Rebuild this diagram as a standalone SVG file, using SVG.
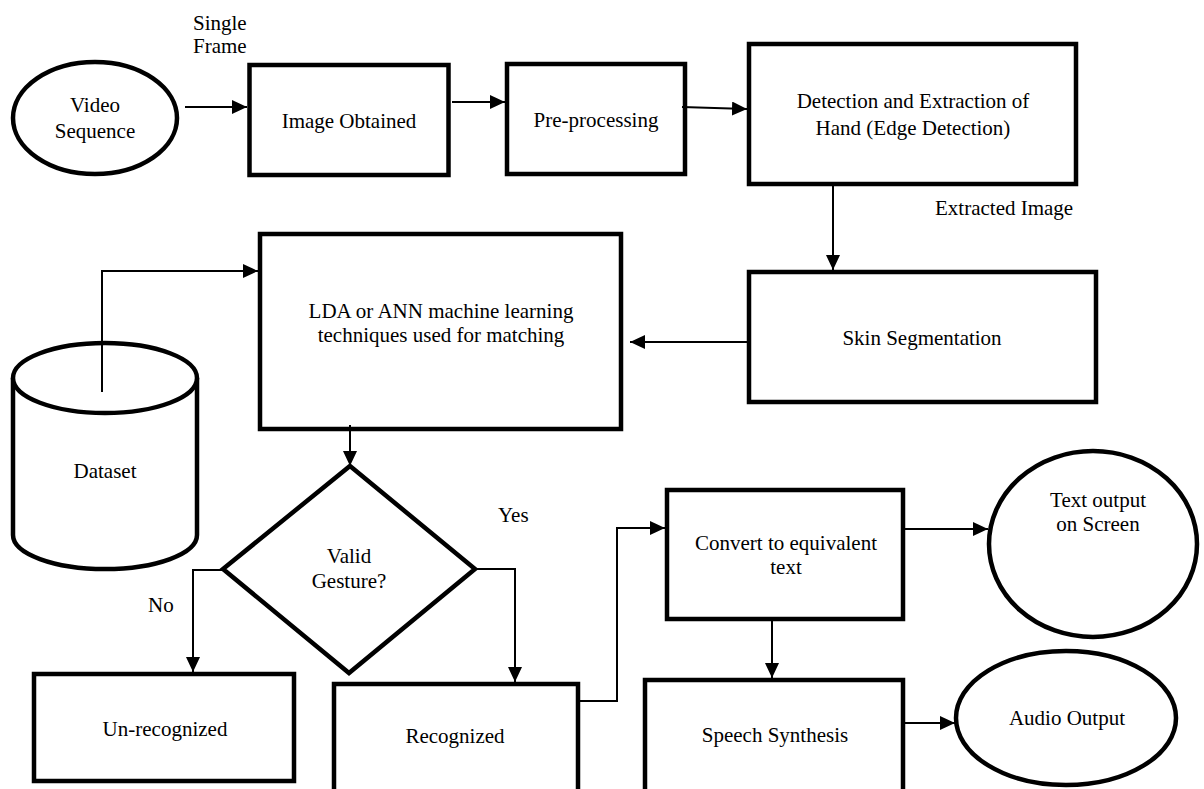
<svg xmlns="http://www.w3.org/2000/svg" width="1204" height="789" viewBox="0 0 1204 789">
<style>
.box{fill:#fff;stroke:#000;stroke-width:4.5}
text{font-family:'Liberation Serif','DejaVu Serif',serif;font-size:21px;fill:#000}
.t{text-anchor:middle}
.c{fill:none;stroke:#000;stroke-width:2;marker-end:url(#ah)}
</style>
<defs>
<marker id="ah" viewBox="0 0 15 14" refX="15" refY="7" markerWidth="15" markerHeight="14" markerUnits="userSpaceOnUse" orient="auto">
<path d="M0,0 L15,7 L0,14 z" fill="#000"/>
</marker>
</defs>
<rect width="1204" height="789" fill="#fff"/>

<g id="video-sequence">
<ellipse class="box" cx="95" cy="118" rx="82" ry="56"/>
<text class="t" x="95" y="112" font-family="Liberation Serif, serif">Video</text>
<text class="t" x="95" y="138" font-family="Liberation Serif, serif">Sequence</text>
</g>

<g id="image-obtained">
<rect class="box" x="249.5" y="65" width="199" height="110"/>
<text class="t" x="349" y="128" font-family="Liberation Serif, serif">Image Obtained</text>
</g>

<g id="pre-processing">
<rect class="box" x="507" y="64" width="178" height="110"/>
<text class="t" x="596" y="127" font-family="Liberation Serif, serif">Pre-processing</text>
</g>

<g id="detection">
<rect class="box" x="749" y="44" width="327" height="140"/>
<text class="t" x="913" y="108" font-family="Liberation Serif, serif">Detection and Extraction of</text>
<text class="t" x="913" y="135" font-family="Liberation Serif, serif">Hand (Edge Detection)</text>
</g>

<g id="skin-segmentation">
<rect class="box" x="749" y="272" width="347" height="130"/>
<text class="t" x="922" y="345" font-family="Liberation Serif, serif">Skin Segmentation</text>
</g>

<g id="lda-ann">
<rect class="box" x="260" y="234" width="361" height="195"/>
<text class="t" x="441" y="318" font-family="Liberation Serif, serif">LDA or ANN machine learning</text>
<text class="t" x="441" y="342" font-family="Liberation Serif, serif">techniques used for matching</text>
</g>

<g id="dataset">
<path class="box" d="M13,378 V535 A92,34 0 0 0 197,535 V378"/>
<ellipse class="box" cx="105" cy="378" rx="92" ry="35"/>
<text class="t" x="105" y="478" font-family="Liberation Serif, serif">Dataset</text>
</g>

<g id="valid-gesture">
<polygon class="box" points="350,466 475,569 349,673 223,569"/>
<text class="t" x="349" y="563" font-family="Liberation Serif, serif">Valid</text>
<text class="t" x="349" y="588" font-family="Liberation Serif, serif">Gesture?</text>
</g>

<g id="un-recognized">
<rect class="box" x="34" y="674" width="260" height="107"/>
<text class="t" x="165" y="736" font-family="Liberation Serif, serif">Un-recognized</text>
</g>

<g id="recognized">
<rect class="box" x="334" y="684" width="244" height="130"/>
<text class="t" x="455" y="743" font-family="Liberation Serif, serif">Recognized</text>
</g>

<g id="convert-text">
<rect class="box" x="667" y="490" width="236" height="129"/>
<text class="t" x="786" y="550" font-family="Liberation Serif, serif">Convert to equivalent</text>
<text class="t" x="786" y="574" font-family="Liberation Serif, serif">text</text>
</g>

<g id="speech-synthesis">
<rect class="box" x="645" y="680" width="258" height="130"/>
<text class="t" x="775" y="742" font-family="Liberation Serif, serif">Speech Synthesis</text>
</g>

<g id="text-output">
<ellipse class="box" cx="1093" cy="544" rx="104" ry="93"/>
<text class="t" x="1098" y="507" font-family="Liberation Serif, serif">Text output</text>
<text class="t" x="1098" y="531" font-family="Liberation Serif, serif">on Screen</text>
</g>

<g id="audio-output">
<ellipse class="box" cx="1066" cy="718" rx="110" ry="67"/>
<text class="t" x="1067" y="725" font-family="Liberation Serif, serif">Audio Output</text>
</g>

<g id="labels">
<text x="193" y="30" font-family="Liberation Serif, serif">Single</text>
<text x="193" y="53" font-family="Liberation Serif, serif">Frame</text>
<text x="935" y="215" font-family="Liberation Serif, serif">Extracted Image</text>
<text x="498" y="522" font-family="Liberation Serif, serif">Yes</text>
<text x="148" y="612" font-family="Liberation Serif, serif">No</text>
</g>

<g id="connectors">
<path class="c" d="M185,107 H247"/>
<path class="c" d="M452,102 H505"/>
<path class="c" d="M682,107 L747,109"/>
<path class="c" d="M833,186 V270"/>
<path class="c" d="M747,342 H630"/>
<path class="c" d="M102,392 V271 H258"/>
<path class="c" d="M350,425 V466"/>
<path class="c" d="M223,570 H193 V672"/>
<path class="c" d="M475,569 H515 V682"/>
<path class="c" d="M580,701 H617 V528 H665"/>
<path class="c" d="M905,529 H988"/>
<path class="c" d="M772,621 V678"/>
<path class="c" d="M905,723 H955"/>
</g>
</svg>
